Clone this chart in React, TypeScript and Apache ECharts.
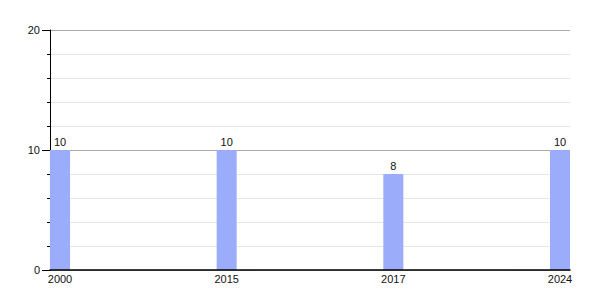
import React, { useEffect, useRef } from "react";
import * as echarts from "echarts";

const categories = ["2000", "2015", "2017", "2024"];
const values = [10, 10, 8, 10];
const yTicks = [0, 10, 20];

export default function App() {
  const ref = useRef<HTMLDivElement>(null);
  useEffect(() => {
    if (!ref.current) return;
    const chart = echarts.init(ref.current, null, { renderer: "svg" });
    const font = "Liberation Sans, Arial, sans-serif";
    chart.setOption({
      animation: false,
      grid: { left: 50, right: 30, top: 30, bottom: 30 },
      xAxis: {
        type: "value",
        z: 10,
        min: -0.06,
        max: categories.length - 1 + 0.06,
        axisLine: { show: true, onZero: false, lineStyle: { color: "#000", width: 1.5 } },
        axisTick: { show: false },
        splitLine: { show: false },
        axisLabel: {
          customValues: categories.map((_, i) => i),
          formatter: (v: number) => categories[Math.round(v)] ?? "",
          color: "#111",
          fontSize: 11,
          fontFamily: font,
          margin: 3,
        },
      },
      yAxis: {
        type: "value",
        min: yTicks[0],
        max: yTicks[yTicks.length - 1],
        interval: 10,
        axisLine: { show: true, onZero: false, lineStyle: { color: "#000", width: 1 } },
        axisTick: { show: true, length: 8, lineStyle: { color: "#000" } },
        minorTick: { show: true, splitNumber: 5, length: 3, lineStyle: { color: "#000" } },
        splitLine: { show: true, lineStyle: { color: "#aaa", width: 1 } },
        minorSplitLine: { show: true, lineStyle: { color: "#e6e6e6", width: 1 } },
        axisLabel: { color: "#111", fontSize: 11, fontFamily: font, margin: 10 },
      },
      series: [
        {
          type: "bar",
          data: values.map((v, i) => [i, v]),
          barWidth: 20,
          clip: false,
          itemStyle: { color: "#9aacfa" },
          label: {
            show: true,
            position: "top",
            distance: 3,
            color: "#111",
            fontSize: 11,
            fontFamily: font,
          },
        },
      ],
    });
    return () => chart.dispose();
  }, []);
  return <div ref={ref} style={{ width: 600, height: 300, margin: -8 }} />;
}
